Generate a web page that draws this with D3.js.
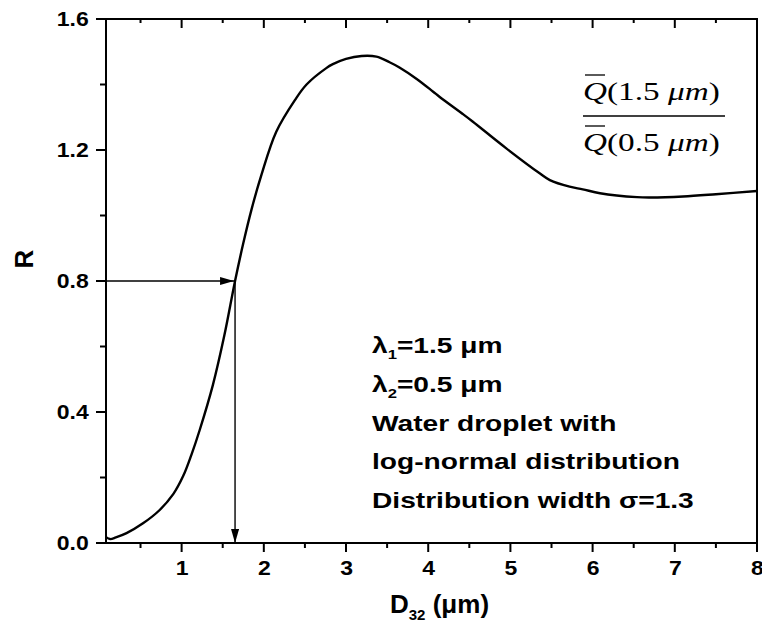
<!DOCTYPE html>
<html>
<head>
<meta charset="utf-8">
<script src="https://cdn.jsdelivr.net/npm/d3@7"></script>
<style>
  html, body { margin: 0; padding: 0; background: #ffffff; }
  svg { display: block; }
  .sans { font-family: Arial, "Liberation Sans", sans-serif; font-weight: bold; fill: #000; }
  .serif { font-family: "Times New Roman", "Liberation Serif", serif; fill: #000; }
</style>
</head>
<body>
<svg id="chart" width="762" height="627"></svg>
<script>
// Ratio R of mean extinction efficiencies vs. Sauter mean diameter D32 (µm)
const diameters = [0.08, 0.13, 0.2, 0.33, 0.53, 0.73, 0.9, 1.02, 1.12, 1.22, 1.38, 1.52, 1.65, 1.75, 1.85, 1.97, 2.15, 2.38, 2.52, 2.76, 2.84, 3.0, 3.19, 3.37, 3.53, 3.65, 3.86, 4.06, 4.14, 4.42, 4.54, 4.95, 5.36, 5.48, 5.72, 5.88, 6.09, 6.54, 6.7, 7.1, 7.5, 8.0];
const ratio     = [0.018, 0.012, 0.017, 0.030, 0.060, 0.100, 0.150, 0.205, 0.270, 0.345, 0.482, 0.634, 0.8, 0.915, 1.018, 1.123, 1.255, 1.353, 1.40, 1.45, 1.462, 1.478, 1.487, 1.485, 1.468, 1.452, 1.417, 1.378, 1.362, 1.31, 1.287, 1.205, 1.128, 1.108, 1.088, 1.08, 1.068, 1.056, 1.055, 1.058, 1.065, 1.075];

const xMajor = [1, 2, 3, 4, 5, 6, 7, 8];
const xMinor = [0.5, 1.5, 2.5, 3.5, 4.5, 5.5, 6.5, 7.5];
const yMajor = [0, 0.4, 0.8, 1.2, 1.6];
const yMinor = [0.2, 0.6, 1.0, 1.4];

// Marked reading on the curve
const markD = 1.65, markR = 0.8;

const infoLines = [
  {main: "λ", sub: "1", rest: "=1.5 μm"},
  {main: "λ", sub: "2", rest: "=0.5 μm"},
  {main: "Water droplet with"},
  {main: "log-normal distribution"},
  {main: "Distribution width σ=1.3"}
];

const svg = d3.select("#chart");
const plotL = 106, plotR = 757, plotT = 19, plotB = 543;
const textStretch = 1.28;   // wide lettering of the annotations
const tickStretch = 1.15;

const x = d3.scaleLinear().domain([0.08, 8]).range([plotL, plotR]);
const y = d3.scaleLinear().domain([0, 1.6]).range([plotB, plotT]);

// arrow marker
svg.append("defs").append("marker")
  .attr("id", "arrow")
  .attr("viewBox", "0 0 14 8")
  .attr("refX", 14).attr("refY", 4)
  .attr("markerWidth", 14).attr("markerHeight", 8)
  .attr("markerUnits", "userSpaceOnUse")
  .attr("orient", "auto")
  .append("path").attr("d", "M0,0 L14,4 L0,8 Z").attr("fill", "#000");

// tick labels via d3 axes (tick lines drawn separately below)
const bottomAxis = svg.append("g").attr("transform", `translate(0,${plotB})`)
  .call(d3.axisBottom(x).tickValues(xMajor).tickSize(9).tickPadding(9).tickSizeOuter(0));
bottomAxis.selectAll(".tick text").attr("class", "sans").style("font-size", "20px")
  .attr("dy", "0.72em").attr("transform", `scale(${tickStretch},1)`);

const leftAxis = svg.append("g").attr("transform", `translate(${plotL},0)`)
  .call(d3.axisLeft(y).tickValues(yMajor).tickFormat(d3.format(".1f")).tickSize(10).tickPadding(5).tickSizeOuter(0));
leftAxis.selectAll(".tick text").attr("class", "sans").style("font-size", "20px")
  .attr("transform", `scale(${tickStretch},1)`);

[bottomAxis, leftAxis].forEach(g => {
  g.select(".domain").remove();
  g.selectAll(".tick line").remove();
});

// frame and tick marks
const frame = svg.append("g").attr("stroke", "#000").attr("stroke-width", 2).attr("fill", "none");
frame.append("path").attr("d", `M${plotL},${plotT}H${plotR}V${plotB}H${plotL}Z`);

const vTicks = (vals, y0, y1) => frame.append("g").selectAll("line").data(vals).join("line")
  .attr("x1", d => x(d)).attr("x2", d => x(d)).attr("y1", y0).attr("y2", y1);
const hTicks = (vals, x0, x1) => frame.append("g").selectAll("line").data(vals).join("line")
  .attr("y1", d => y(d)).attr("y2", d => y(d)).attr("x1", x0).attr("x2", x1);

vTicks(xMajor, plotB, plotB + 9);
vTicks(xMinor, plotB, plotB + 5);
vTicks(xMajor, plotT, plotT + 9);
vTicks(xMinor, plotT, plotT + 4);
hTicks(yMajor, plotL - 10, plotL);
hTicks(yMinor, plotL - 6, plotL);

// axis titles
svg.append("text").attr("class", "sans")
  .attr("transform", "translate(33,259) rotate(-90)")
  .attr("text-anchor", "middle").style("font-size", "26px").text("R");

const xt = svg.append("text").attr("class", "sans")
  .attr("x", 390).attr("y", 613).style("font-size", "26px");
xt.append("tspan").text("D");
xt.append("tspan").attr("dy", 7).style("font-size", "15px").text("32");
xt.append("tspan").attr("dy", -7).text(" (μm)");

// curve
const line = d3.line().x((d, i) => x(diameters[i])).y(d => y(d)).curve(d3.curveCatmullRom.alpha(0.5));
svg.append("path").datum(ratio)
  .attr("d", line).attr("fill", "none").attr("stroke", "#000").attr("stroke-width", 2.4);

// reading arrows
svg.append("line")
  .attr("x1", plotL).attr("y1", y(markR)).attr("x2", x(markD) - 1).attr("y2", y(markR))
  .attr("stroke", "#000").attr("stroke-width", 1.4).attr("marker-end", "url(#arrow)");
svg.append("line")
  .attr("x1", x(markD)).attr("y1", y(markR)).attr("x2", x(markD)).attr("y2", y(0))
  .attr("stroke", "#000").attr("stroke-width", 1.4).attr("marker-end", "url(#arrow)");

// info block
infoLines.forEach((l, i) => {
  const t = svg.append("text").attr("class", "sans")
    .attr("transform", `translate(372,${353 + i * 38.8}) scale(${textStretch},1)`)
    .style("font-size", "22px");
  t.append("tspan").text(l.main);
  if (l.sub) {
    t.append("tspan").attr("dy", 6).style("font-size", "13px").text(l.sub);
    t.append("tspan").attr("dy", -6).text(l.rest);
  }
});

// ratio formula
const frac = svg.append("g").attr("class", "serif").style("font-size", "25px");
const fx = 583;
[["1.5", 100], ["0.5", 151]].forEach(([w, by]) => {
  const t = frac.append("text").attr("transform", `translate(${fx},${by}) scale(1.33,1)`);
  t.append("tspan").style("font-style", "italic").text("Q");
  t.append("tspan").text("(" + w + " ");
  t.append("tspan").style("font-style", "italic").text("μm");
  t.append("tspan").text(")");
  frac.append("line").attr("x1", fx + 2).attr("x2", fx + 22).attr("y1", by - 25).attr("y2", by - 25)
    .attr("stroke", "#000").attr("stroke-width", 1.3);
});
frac.append("line").attr("x1", fx).attr("x2", 725).attr("y1", 116).attr("y2", 116)
  .attr("stroke", "#000").attr("stroke-width", 1.3);
</script>
</body>
</html>
